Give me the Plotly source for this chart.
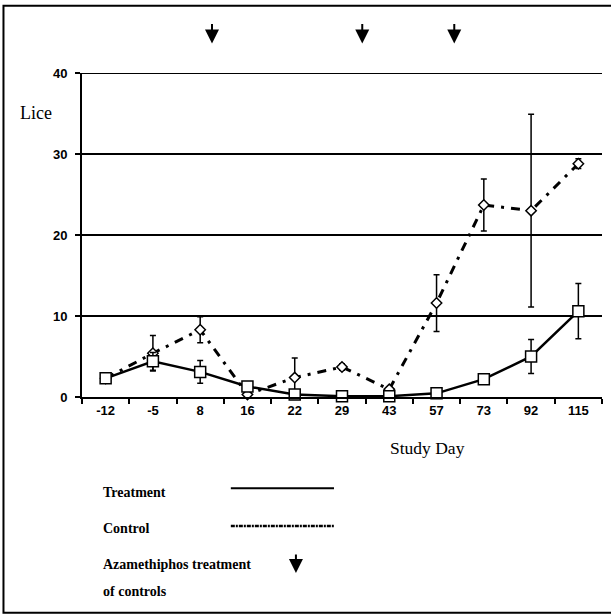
import plotly.graph_objects as go

# ---- data ----
days = ["-12", "-5", "8", "16", "22", "29", "43", "57", "73", "92", "115"]
treatment = [2.3, 4.4, 3.1, 1.3, 0.3, 0.1, 0.1, 0.45, 2.2, 5.0, 10.6]
treatment_err = [0, 1.1, 1.4, 0.2, 0, 0, 0, 0, 0.2, 2.1, 3.4]
control = [2.3, 5.4, 8.3, 0.3, 2.4, 3.7, 0.95, 11.6, 23.7, 23.0, 28.8]
control_err = [0, 2.2, 1.6, 0, 2.4, 0.4, 0.3, 3.5, 3.2, 11.9, 0.6]
azamethiphos_days = [10, 35, 63]
y_ticks = [0, 10, 20, 30, 40]

W, H = 611, 616
L, R, T, B = 82.4, 601.6, 72.5, 397.5


def px(x):
    return (x - L) / (R - L)


def py(y):
    return (B - y) / (B - T)


def day_index(d):
    nums = [float(v) for v in days]
    for i in range(len(nums) - 1):
        if nums[i] <= d <= nums[i + 1]:
            return i + (d - nums[i]) / (nums[i + 1] - nums[i])
    return 0


fig = go.Figure()

fig.add_trace(go.Scatter(
    x=days, y=control, mode="lines+markers", name="Control",
    line=dict(color="black", width=3, dash="9px,7px,3px,7px"),
    marker=dict(symbol="diamond", size=8, color="white", line=dict(width=1.5, color="black")),
    error_y=dict(type="data", array=control_err, visible=True, color="black",
                 thickness=1.5, width=3),
    cliponaxis=False,
))
fig.add_trace(go.Scatter(
    x=days, y=treatment, mode="lines+markers", name="Treatment",
    line=dict(color="black", width=2.5),
    marker=dict(symbol="square", size=11, color="white", line=dict(width=1.5, color="black")),
    error_y=dict(type="data", array=treatment_err, visible=True, color="black",
                 thickness=1.5, width=3),
    cliponaxis=False,
))

n = len(days)
annotations = []
# arrows for azamethiphos treatments
for d in azamethiphos_days:
    annotations.append(dict(
        x=(day_index(d) + 0.5) / n, y=py(43), xref="paper", yref="paper", text="",
        showarrow=True, ax=0, ay=-21, arrowhead=2, arrowsize=1.4, arrowwidth=2,
        arrowcolor="black",
    ))

serif = "Liberation Serif"
annotations += [
    dict(x=px(18), y=py(113), xref="paper", yref="paper", text="Lice", showarrow=False,
         xanchor="left", yanchor="middle", font=dict(family=serif, size=18, color="black")),
    dict(x=px(427), y=py(449), xref="paper", yref="paper", text="Study Day", showarrow=False,
         xanchor="center", yanchor="middle", font=dict(family=serif, size=17.5, color="black")),
    dict(x=px(101), y=py(493), xref="paper", yref="paper", text="Treatment", showarrow=False,
         xanchor="left", yanchor="middle",
         font=dict(family=serif, size=14, color="black", weight="bold")),
    dict(x=px(101), y=py(529), xref="paper", yref="paper", text="Control", showarrow=False,
         xanchor="left", yanchor="middle",
         font=dict(family=serif, size=14, color="black", weight="bold")),
    dict(x=px(101), y=py(566), xref="paper", yref="paper", text="Azamethiphos treatment",
         showarrow=False, xanchor="left", yanchor="middle",
         font=dict(family=serif, size=14, color="black", weight="bold")),
    dict(x=px(101), y=py(593), xref="paper", yref="paper", text="of controls", showarrow=False,
         xanchor="left", yanchor="middle",
         font=dict(family=serif, size=14, color="black", weight="bold")),
    dict(x=px(296), y=py(574), xref="paper", yref="paper", text="", showarrow=True,
         ax=0, ay=-20, arrowhead=2, arrowsize=1.4, arrowwidth=2, arrowcolor="black"),
]

shapes = [
    dict(type="rect", xref="paper", yref="paper", x0=px(4), x1=px(613), y0=py(614), y1=py(5),
         line=dict(color="black", width=2)),
    dict(type="line", xref="paper", yref="y", x0=0, x1=1, y0=y_ticks[-1], y1=y_ticks[-1],
         line=dict(color="black", width=1.8)),
    dict(type="line", xref="paper", yref="paper", x0=px(231), x1=px(334), y0=py(489), y1=py(489),
         line=dict(color="black", width=2)),
    dict(type="line", xref="paper", yref="paper", x0=px(231), x1=px(334), y0=py(527), y1=py(527),
         line=dict(color="black", width=2.5, dash="4px,1px,2px,1px")),
]

fig.update_layout(
    width=W, height=H,
    margin=dict(l=L, r=W - R, t=T, b=H - B, pad=0),
    paper_bgcolor="white", plot_bgcolor="white",
    showlegend=False,
    annotations=annotations, shapes=shapes,
    font=dict(family="Liberation Sans", color="black"),
)
fig.update_xaxes(
    type="category", categoryorder="array", categoryarray=days,
    range=[-0.5, n - 0.5],
    tickson="boundaries", ticks="outside", ticklen=5, tickwidth=2, tickcolor="black",
    showline=True, linecolor="black", linewidth=2, showgrid=False, zeroline=False,
    tickfont=dict(family="Liberation Sans", size=13, color="black", weight="bold"),
)
fig.update_yaxes(
    range=[0, 40], tickvals=y_ticks, ticks="outside", ticklen=5, tickwidth=2,
    tickcolor="black", showline=True, linecolor="black", linewidth=2,
    showgrid=True, gridcolor="black", gridwidth=1.6, zeroline=False,
    tickfont=dict(family="Liberation Sans", size=13, color="black", weight="bold"),
    ticklabelstandoff=5,
)

fig.write_html("out.html")
